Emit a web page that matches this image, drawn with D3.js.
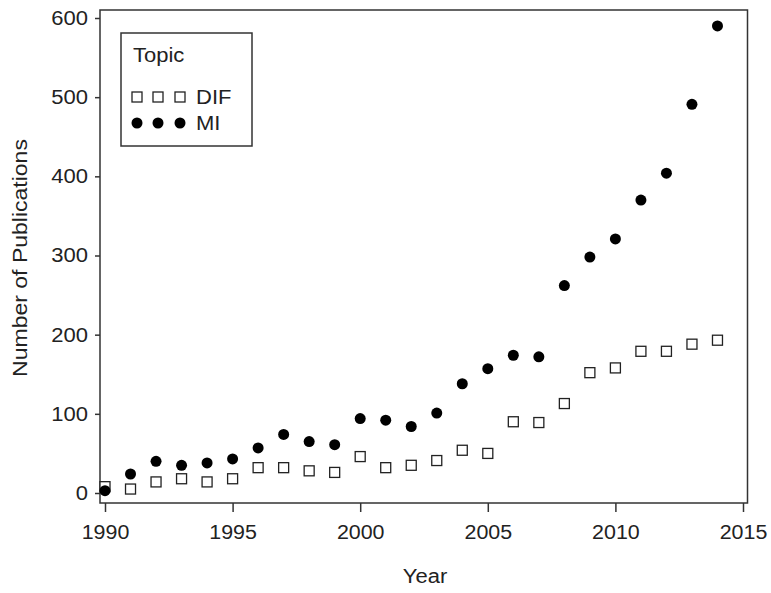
<!DOCTYPE html>
<html>
<head>
<meta charset="utf-8">
<script src="https://cdn.jsdelivr.net/npm/d3@7"></script>
<style>
  body { margin: 0; background: #fff; }
  text { font-family: "Liberation Sans", Arial, sans-serif; fill: #222; }
</style>
</head>
<body>
<div id="chart"></div>
<script>
const years = d3.range(1990, 2015);
const difCounts = [8, 5, 14, 18, 14, 18, 32, 32, 28, 26, 46, 32, 35, 41, 54, 50, 90, 89, 113, 152, 158, 179, 179, 188, 193];
const miCounts = [3, 24, 40, 35, 38, 43, 57, 74, 65, 61, 94, 92, 84, 101, 138, 157, 174, 172, 262, 298, 321, 370, 404, 491, 590];
const xTicks = [1990, 1995, 2000, 2005, 2010, 2015];
const yTicks = [0, 100, 200, 300, 400, 500, 600];

const width = 771;
const height = 593;
const margin = ({top: 10, right: 23, bottom: 90, left: 100});
const fontSize = 20;

const x = d3.scaleLinear().domain([1990, 2015]).range([105, 743]);
const y = d3.scaleLinear().domain([0, 600]).range([493, 18]);

// the original text runs a bit wider than Arial, stretch it along its baseline
const stretch = function (sel, k) {
  sel.each(function () {
    const len = this.getComputedTextLength();
    d3.select(this)
      .attr("textLength", len * k)
      .attr("lengthAdjust", "spacingAndGlyphs");
  });
};

const svg = d3.select("#chart").append("svg")
  .attr("width", width)
  .attr("height", height);

// frame
svg.append("rect")
  .attr("x", margin.left)
  .attr("y", margin.top)
  .attr("width", width - margin.left - margin.right - 0.5)
  .attr("height", height - margin.top - margin.bottom)
  .attr("fill", "none")
  .attr("stroke", "#333")
  .attr("stroke-width", 1.5);

const plotBottom = height - margin.bottom;

// x axis
svg.append("g")
  .attr("transform", `translate(0,${plotBottom})`)
  .call(d3.axisBottom(x).tickValues(xTicks).tickFormat(d3.format("d")).tickSize(9).tickPadding(13))
  .call(g => g.select(".domain").remove())
  .call(g => g.selectAll(".tick line").attr("stroke", "#333").attr("stroke-width", 1.5))
  .call(g => g.selectAll(".tick text")
    .attr("font-size", fontSize)
    .attr("font-family", "Liberation Sans, Arial, sans-serif")
    .attr("fill", "#222")
    .call(stretch, 1.07));

// y axis
svg.append("g")
  .attr("transform", `translate(${margin.left},0)`)
  .call(d3.axisLeft(y).tickValues(yTicks).tickSize(5).tickPadding(7))
  .call(g => g.select(".domain").remove())
  .call(g => g.selectAll(".tick line").attr("stroke", "#333").attr("stroke-width", 1.5))
  .call(g => g.selectAll(".tick text")
    .attr("font-size", fontSize)
    .attr("font-family", "Liberation Sans, Arial, sans-serif")
    .attr("fill", "#222")
    .call(stretch, 1.1));

// axis titles
svg.append("text")
  .attr("x", 425)
  .attr("y", 583)
  .attr("text-anchor", "middle")
  .attr("font-size", fontSize)
  .text("Year")
  .call(stretch, 1.1);

svg.append("text")
  .attr("transform", "translate(27,258) rotate(-90)")
  .attr("text-anchor", "middle")
  .attr("font-size", fontSize)
  .text("Number of Publications")
  .call(stretch, 1.15);

// data marks
const sq = 10;
svg.append("g").selectAll("rect")
  .data(years)
  .join("rect")
    .attr("x", (d) => x(d) - sq / 2)
    .attr("y", (d, i) => y(difCounts[i]) - sq / 2)
    .attr("width", sq)
    .attr("height", sq)
    .attr("fill", "#fff")
    .attr("stroke", "#222")
    .attr("stroke-width", 1.3);

svg.append("g").selectAll("circle")
  .data(years)
  .join("circle")
    .attr("cx", (d) => x(d))
    .attr("cy", (d, i) => y(miCounts[i]))
    .attr("r", 5.5)
    .attr("fill", "#000");

// legend
const legend = svg.append("g");
legend.append("rect")
  .attr("x", 121).attr("y", 33)
  .attr("width", 131).attr("height", 113)
  .attr("fill", "#fff")
  .attr("stroke", "#333")
  .attr("stroke-width", 1.5);

legend.append("text")
  .attr("x", 133).attr("y", 62)
  .attr("font-size", fontSize)
  .text("Topic")
  .call(stretch, 1.1);

const keyX = [137, 158, 180];
legend.append("g").selectAll("rect")
  .data(keyX)
  .join("rect")
    .attr("x", (d) => d - sq / 2)
    .attr("y", 97 - sq / 2)
    .attr("width", sq).attr("height", sq)
    .attr("fill", "#fff")
    .attr("stroke", "#222")
    .attr("stroke-width", 1.3);

legend.append("g").selectAll("circle")
  .data(keyX)
  .join("circle")
    .attr("cx", (d) => d)
    .attr("cy", 123)
    .attr("r", 5.5)
    .attr("fill", "#000");

legend.append("text").attr("x", 196).attr("y", 104).attr("font-size", fontSize).text("DIF").call(stretch, 1.1);
legend.append("text").attr("x", 196).attr("y", 130).attr("font-size", fontSize).text("MI").call(stretch, 1.1);
</script>
</body>
</html>
